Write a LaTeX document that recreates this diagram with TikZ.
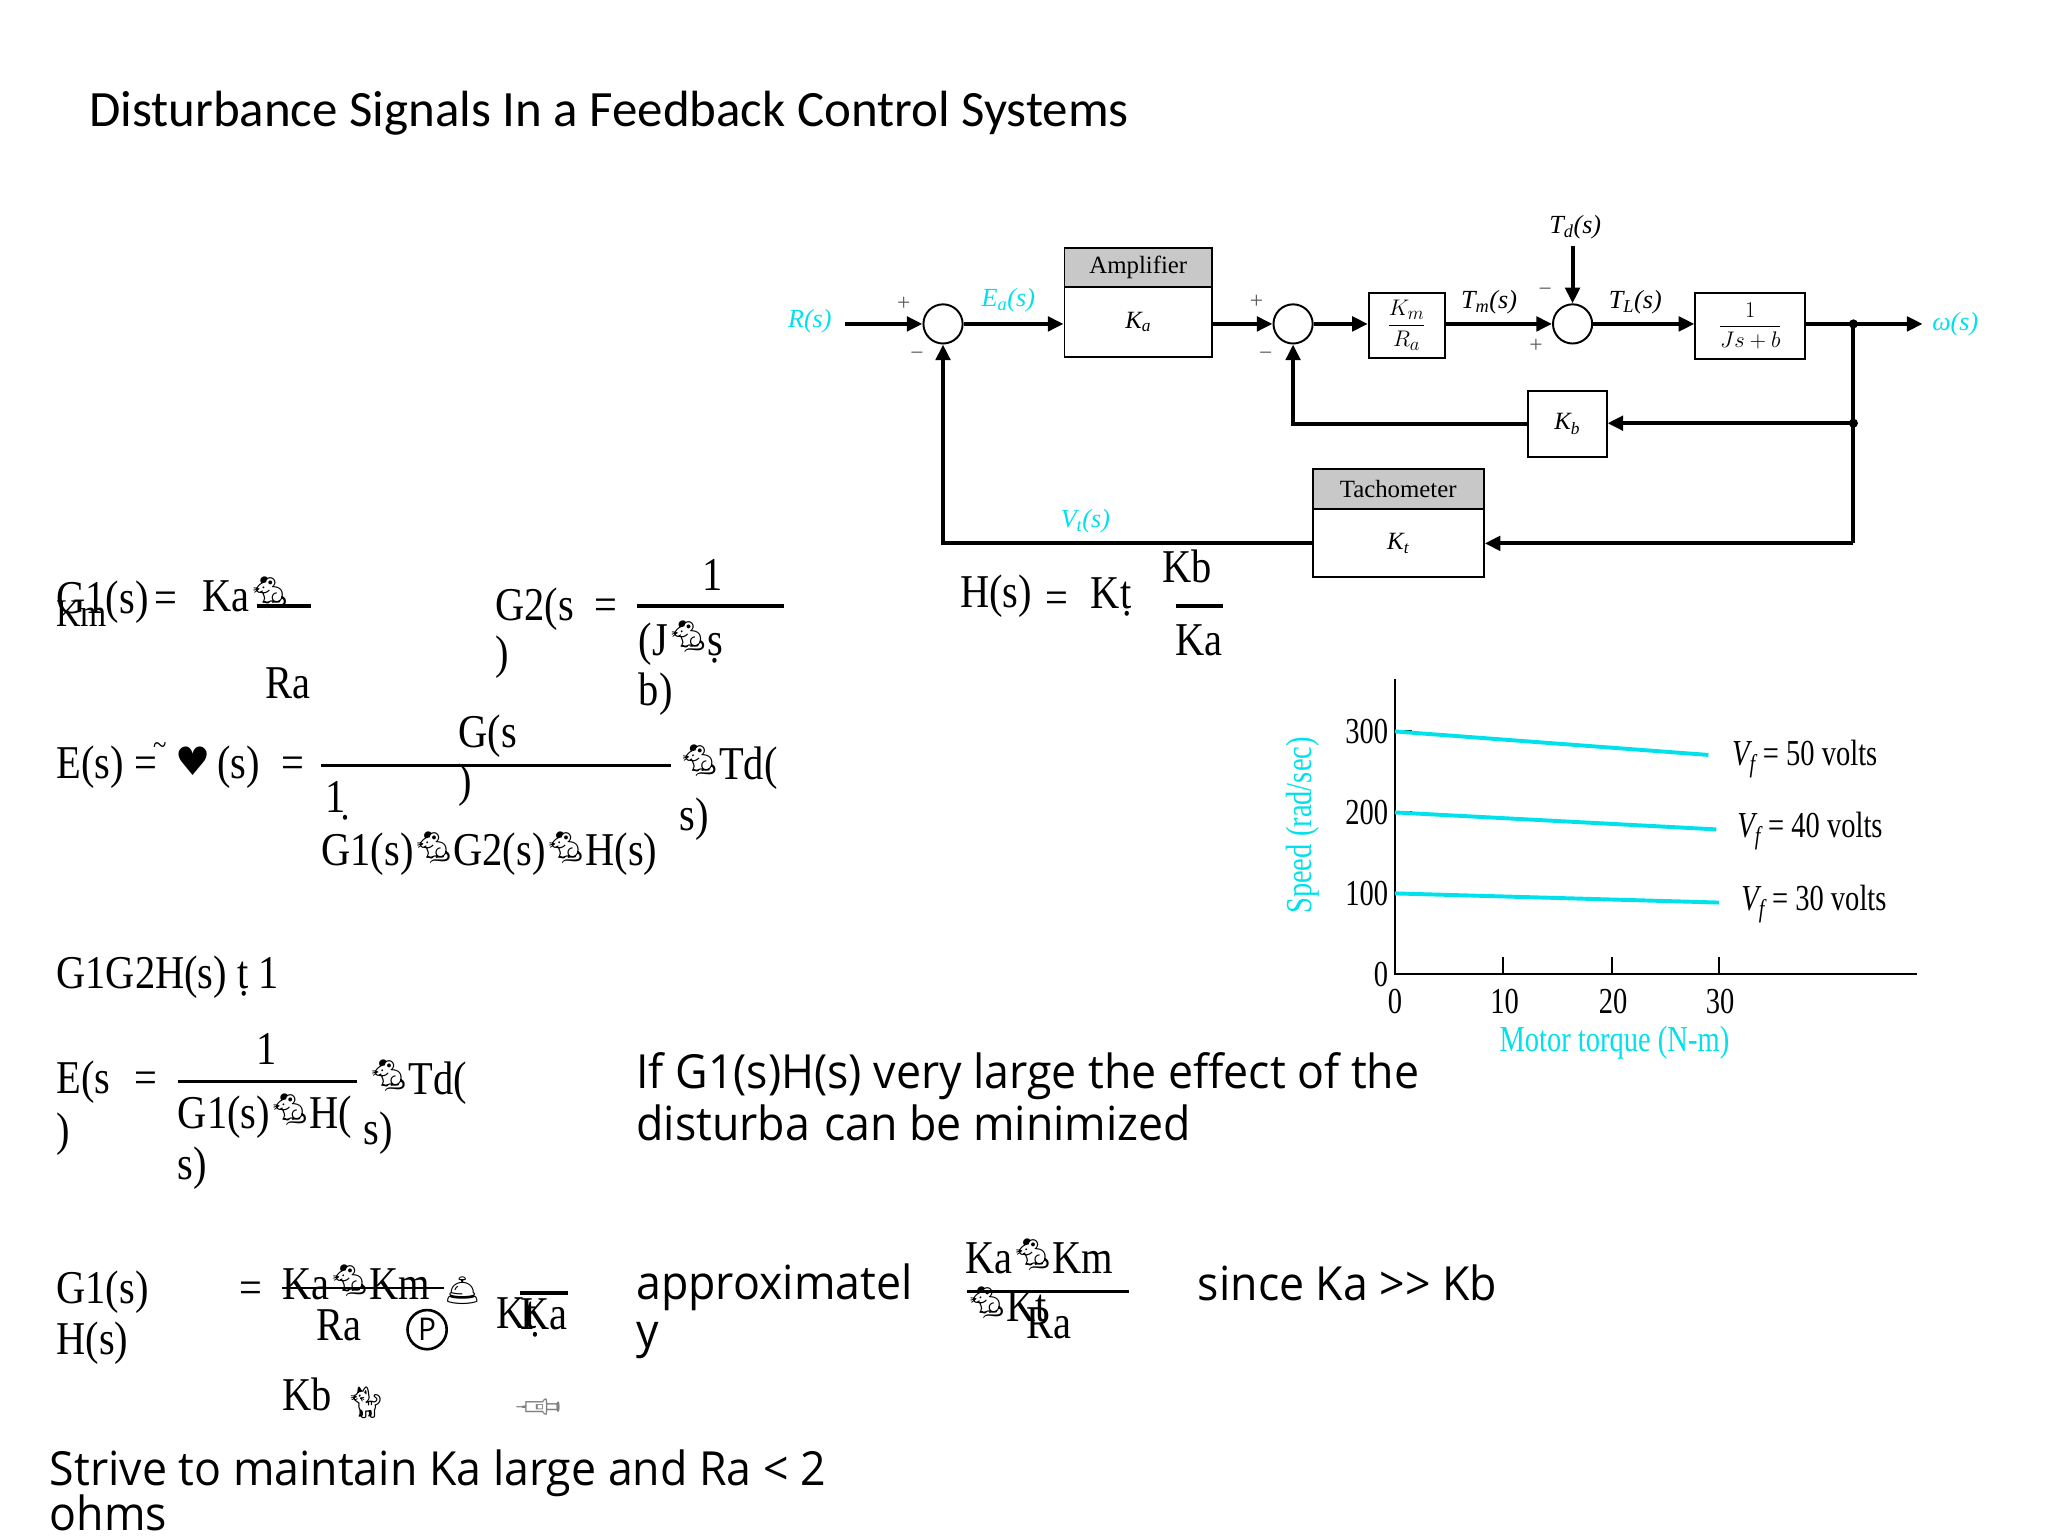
\documentclass[tikz,border=0pt]{standalone}
\usepackage{fontspec}
\setmainfont{Liberation Serif}
\newfontfamily\titlefont{Carlito}
\newfontfamily\bodyfont[FakeStretch=0.95]{Open Sans}
\newfontfamily\eqfont[FakeStretch=0.86]{Liberation Serif}
\newfontfamily\chartfont[FakeStretch=0.78]{Liberation Serif}
\newfontfamily\symfont{DejaVu Sans}
\newfontfamily\emojifont{Noto Emoji}
\usetikzlibrary{arrows.meta}
\definecolor{cy}{RGB}{0,225,235}
\definecolor{hdr}{RGB}{200,200,200}
\definecolor{sgngray}{RGB}{90,90,90}
\newcommand{\mo}{\raisebox{6pt}{\emojifont\fontsize{24}{24}\selectfont 🐁}}
\tikzset{
  title/.style={anchor=base west, inner sep=0, font=\titlefont\fontsize{39}{44}\selectfont},
  eq/.style={anchor=base west, inner sep=0, font=\eqfont\fontsize{36}{40}\selectfont},
  sans/.style={anchor=base west, inner sep=0, font=\bodyfont\fontsize{36}{40}\selectfont},
  sig/.style={inner sep=0, text=cy, font=\fontsize{20}{22}\selectfont\itshape},
  blk/.style={inner sep=0, font=\fontsize{20}{22}\selectfont\itshape},
  sgn/.style={inner sep=0, text=sgngray, font=\fontsize{18}{20}\selectfont},
  wire/.style={line width=3pt},
  arr/.style={line width=3pt, -{Triangle[length=12pt,width=11pt]}},
  box/.style={draw, line width=1.5pt, inner sep=0, font=\fontsize{19}{21}\selectfont},
  hbox/.style={box, fill=hdr},
  sumc/.style={draw, circle, line width=1.5pt, minimum size=30pt, inner sep=0},
  fl/.style={line width=2.5pt},
  tick/.style={inner sep=0, font=\chartfont\fontsize{28}{30}\selectfont},
  ax/.style={line width=1.5pt},
  crv/.style={line width=3pt, cy},
}
\begin{document}
\begin{tikzpicture}[x=1pt, y=-1pt]
\useasboundingbox (0,0) rectangle (1568,1176);
% title
\node[title] (ttl) at (68,97) {Disturbance Signals In a Feedback Control Systems};

% ---------- block diagram ----------
\node[sumc] (s1) at (722,248) {};
\node[sumc] (s2) at (990,248) {};
\node[sumc] (s3) at (1204,248) {};
\node[hbox, minimum width=113pt, minimum height=30pt] (amph) at (871.5,205) {Amplifier};
\node[box, minimum width=113pt, minimum height=53pt] (amp) at (871.5,246.5) {\itshape K\textsubscript{a}};
\node[box, minimum width=58pt, minimum height=50pt] (kmra) at (1077,249) {$\displaystyle\frac{K_m}{R_a}$};
\node[box, minimum width=84pt, minimum height=51pt] (plant) at (1340,249.5) {$\displaystyle\frac{1}{Js+b}$};
\node[box, minimum width=60pt, minimum height=51pt] (kb) at (1200,324.5) {\itshape K\textsubscript{b}};
\node[hbox, minimum width=131pt, minimum height=31pt] (tachh) at (1070.5,374.5) {Tachometer};
\node[box, minimum width=131pt, minimum height=52pt] (tach) at (1070.5,416) {\itshape K\textsubscript{t}};

\coordinate (rin) at (647,248);
\coordinate (j1) at (1419,248);
\coordinate (j2) at (1419,324);
\coordinate (j3) at (1419,416);
\coordinate (wout) at (1472,248);
\coordinate (tdin) at (1204,188);

\draw[arr] (rin) -- (s1.west);
\draw[arr] (s1.east) -- (s1.east -| amp.west);
\draw[arr] (amp.east |- s2) -- (s2.west);
\draw[arr] (s2.east) -- (kmra.west |- s2);
\draw[arr] (kmra.east |- s3) -- (s3.west);
\draw[arr] (s3.east) -- (plant.west |- s3);
\draw[wire] (plant.east |- s3) -- (j1);
\draw[arr] (j1) -- (wout);
\draw[wire] (j1) -- (j3);
\draw[arr] (j2) -- (kb.east |- j2);
\draw[arr] (kb.west) -| (s2.south);
\draw[arr] (j3) -- (tach.east |- j3);
\draw[arr] (tach.west) -| (s1.south);
\draw[arr] (tdin) -- (s3.north);
\fill (j1) circle (3.5pt);
\fill (j2) circle (3.5pt);

\node[sig] (lr) at (620,246) {R(s)};
\node[sig] (lea) at (772,230) {E\textsubscript{a}(s)};
\node[sig] (lvt) at (831,399) {V\textsubscript{t}(s)};
\node[sig] (lw) at (1497,248) {ω(s)};
\node[blk] (ltm) at (1140,231) {T\textsubscript{m}(s)};
\node[blk] (ltl) at (1252,231) {T\textsubscript{L}(s)};
\node[blk] (ltd) at (1206,174) {T\textsubscript{d}(s)};
\node[sgn] (p1) at (692,233) {+};
\node[sgn] (m1) at (702,273) {−};
\node[sgn] (p2) at (962,231) {+};
\node[sgn] (m2) at (969,273) {−};
\node[sgn] (m3) at (1183,224) {−};
\node[sgn] (p3) at (1176,265) {+};

% ---------- chart ----------
\coordinate (o) at (1068,746);
\coordinate (ytop) at (1068,520);
\coordinate (xend) at (1468,746);
\draw[ax] (ytop) -- (o) -- (xend);
\foreach \yy in {560,622,684} \draw[ax] (1068,\yy) -- (1081,\yy);
\foreach \xx in {1151,1234,1316} \draw[ax] (\xx,746) -- (\xx,733);
\draw[crv] (1068,560) -- (1308,578);
\draw[crv] (1068,622) -- (1314,635);
\draw[crv] (1068,684) -- (1316,691);
\node[tick, anchor=east] (y300) at (1063,560) {300};
\node[tick, anchor=east] (y200) at (1063,622) {200};
\node[tick, anchor=east] (y100) at (1063,684) {100};
\node[tick, anchor=east] (y0) at (1063,746) {0};
\node[tick] (x0) at (1068,767) {0};
\node[tick] (x10) at (1152,767) {10};
\node[tick] (x20) at (1235,767) {20};
\node[tick] (x30) at (1317,767) {30};
\node[tick, anchor=west] (v50) at (1326,581) {\itshape V\textsubscript{f}\upshape{} = 50 volts};
\node[tick, anchor=west] (v40) at (1330,636) {\itshape V\textsubscript{f}\upshape{} = 40 volts};
\node[tick, anchor=west] (v30) at (1333,692) {\itshape V\textsubscript{f}\upshape{} = 30 volts};
\node[tick, text=cy, rotate=90] (ylab) at (997,632) {Speed (rad/sec)};
\node[tick, text=cy] (xlab) at (1236,798) {Motor torque (N-m)};

% ---------- equations ----------
% row 1
\node[eq] (e1a) at (43,470) {G1(s)};
\node[eq, font=\eqfont\fontsize{30}{32}\selectfont] (e1km) at (43,480) {Km};
\node[eq] (e1eq) at (118,470) {=};
\node[eq] (e1ka) at (155,468) {Ka\mo};
\draw[fl] (197,464) -- (238,464);
\node[eq] (e1ra) at (203,535) {Ra};
\node[eq] (e2g) at (379,475) {G2(s};
\node[eq] (e2p) at (379,512) {)};
\node[eq] (e2eq) at (455,475) {=};
\node[eq] (e2one) at (538,452) {1};
\draw[fl] (488,464) -- (600,464);
\node[eq] (e2j) at (489,502) {(J\mo \d{s}};
\node[eq] (e2b) at (489,540) {b)};
\node[eq] (e3h) at (735,465) {H(s)};
\node[eq] (e3eq) at (800,470) {=};
\node[eq] (e3kt) at (835,466) {K\d{t}};
\node[eq] (e3kb) at (890,446) {Kb};
\draw[fl] (900,464) -- (936,464);
\node[eq] (e3ka) at (900,502) {Ka};
% row 2
\node[eq] (e4e) at (43,596) {E(s)};
\node[eq] (e4eq) at (103,596) {=};
\node[eq, font=\eqfont\fontsize{22}{22}\selectfont] (e4tl) at (117,578) {\textasciitilde};
\node[eq, font=\symfont\fontsize{30}{30}\selectfont] (e4hrt) at (134,594) {♥};
\node[eq] (e4s) at (166,596) {(s)};
\node[eq] (e4eq2) at (215,596) {=};
\node[eq] (e4g) at (351,572) {G(s};
\node[eq] (e4p) at (351,610) {)};
\draw[fl] (246,586) -- (514,586);
\node[eq] (e4one) at (249,622) {\d{1}};
\node[eq] (e4den) at (246,663) {G1(s)\mo G2(s)\mo H(s)};
\node[eq] (e4td) at (520,597) {\mo Td(};
\node[eq] (e4s2) at (520,636) {s)};
% row 3
\node[eq] (e5) at (43,757) {G1G2H(s) \d{t} 1};
% row 4
\node[eq] (e6e) at (43,837) {E(s};
\node[eq] (e6eq) at (103,837) {=};
\node[eq] (e6p) at (43,877) {)};
\node[eq] (e6one) at (196,815) {1};
\draw[fl] (136,828) -- (273,828);
\node[eq] (e6den) at (136,864) {G1(s)\mo H(};
\node[eq] (e6s) at (278,876) {s)};
\node[eq] (e6s2) at (136,903) {s)};
\node[eq] (e6td) at (282,838) {\mo Td(};
% row 5
\node[eq] (e7g) at (43,998) {G1(s)};
\node[eq] (e7h) at (43,1037) {H(s)};
\node[eq] (e7eq) at (183,998) {=};
\node[eq] (e7num) at (216,995) {Ka\mo Km};
\draw[line width=2pt] (216,986) -- (340,986);
\node[font=\emojifont\fontsize{22}{22}\selectfont, inner sep=0] (e7bell) at (354,988) {🛎};
\node[eq] (e7ra) at (242,1026) {Ra};
\node[draw, circle, line width=2pt, minimum size=30pt, inner sep=0, font=\bodyfont\fontsize{24}{24}\selectfont] (e7p) at (327,1018) {P};
\node[eq] (e7kt) at (380,1017) {Kt};
\node[eq] (e7ka) at (398,1018) {\d{K}a};
\draw[fl] (398,990) -- (435,990);
\node[eq] (e7kb) at (216,1080) {Kb};
\node[font=\emojifont\fontsize{24}{24}\selectfont, inner sep=0] (e7cat) at (280,1074) {🐈};
\node[font=\emojifont\fontsize{28}{28}\selectfont, inner sep=0, text=gray, rotate=135] (e7syr) at (414,1077) {💉};
% approximately
\node[sans] (t1) at (487,833) {If G1(s)H(s) very large the effect of the};
\node[sans] (t2) at (487,873) {disturba\hspace{0.3em}can be minimized};
\node[sans] (t3) at (487,995) {approximatel};
\node[sans] (t4) at (487,1032) {y};
\node[eq] (f1) at (739,975) {Ka\mo Km};
\draw[fl] (740,989) -- (864,989);
\node[eq] (f2) at (740,1012) {\mo Kt};
\node[eq] (f3) at (786,1025) {Ra};
\node[sans] (t5) at (917,996) {since Ka >> Kb};
\node[sans] (t6) at (38,1137) {Strive to maintain Ka large and Ra < 2};
\node[sans] (t7) at (38,1172) {ohms};
\end{tikzpicture}
\end{document}
